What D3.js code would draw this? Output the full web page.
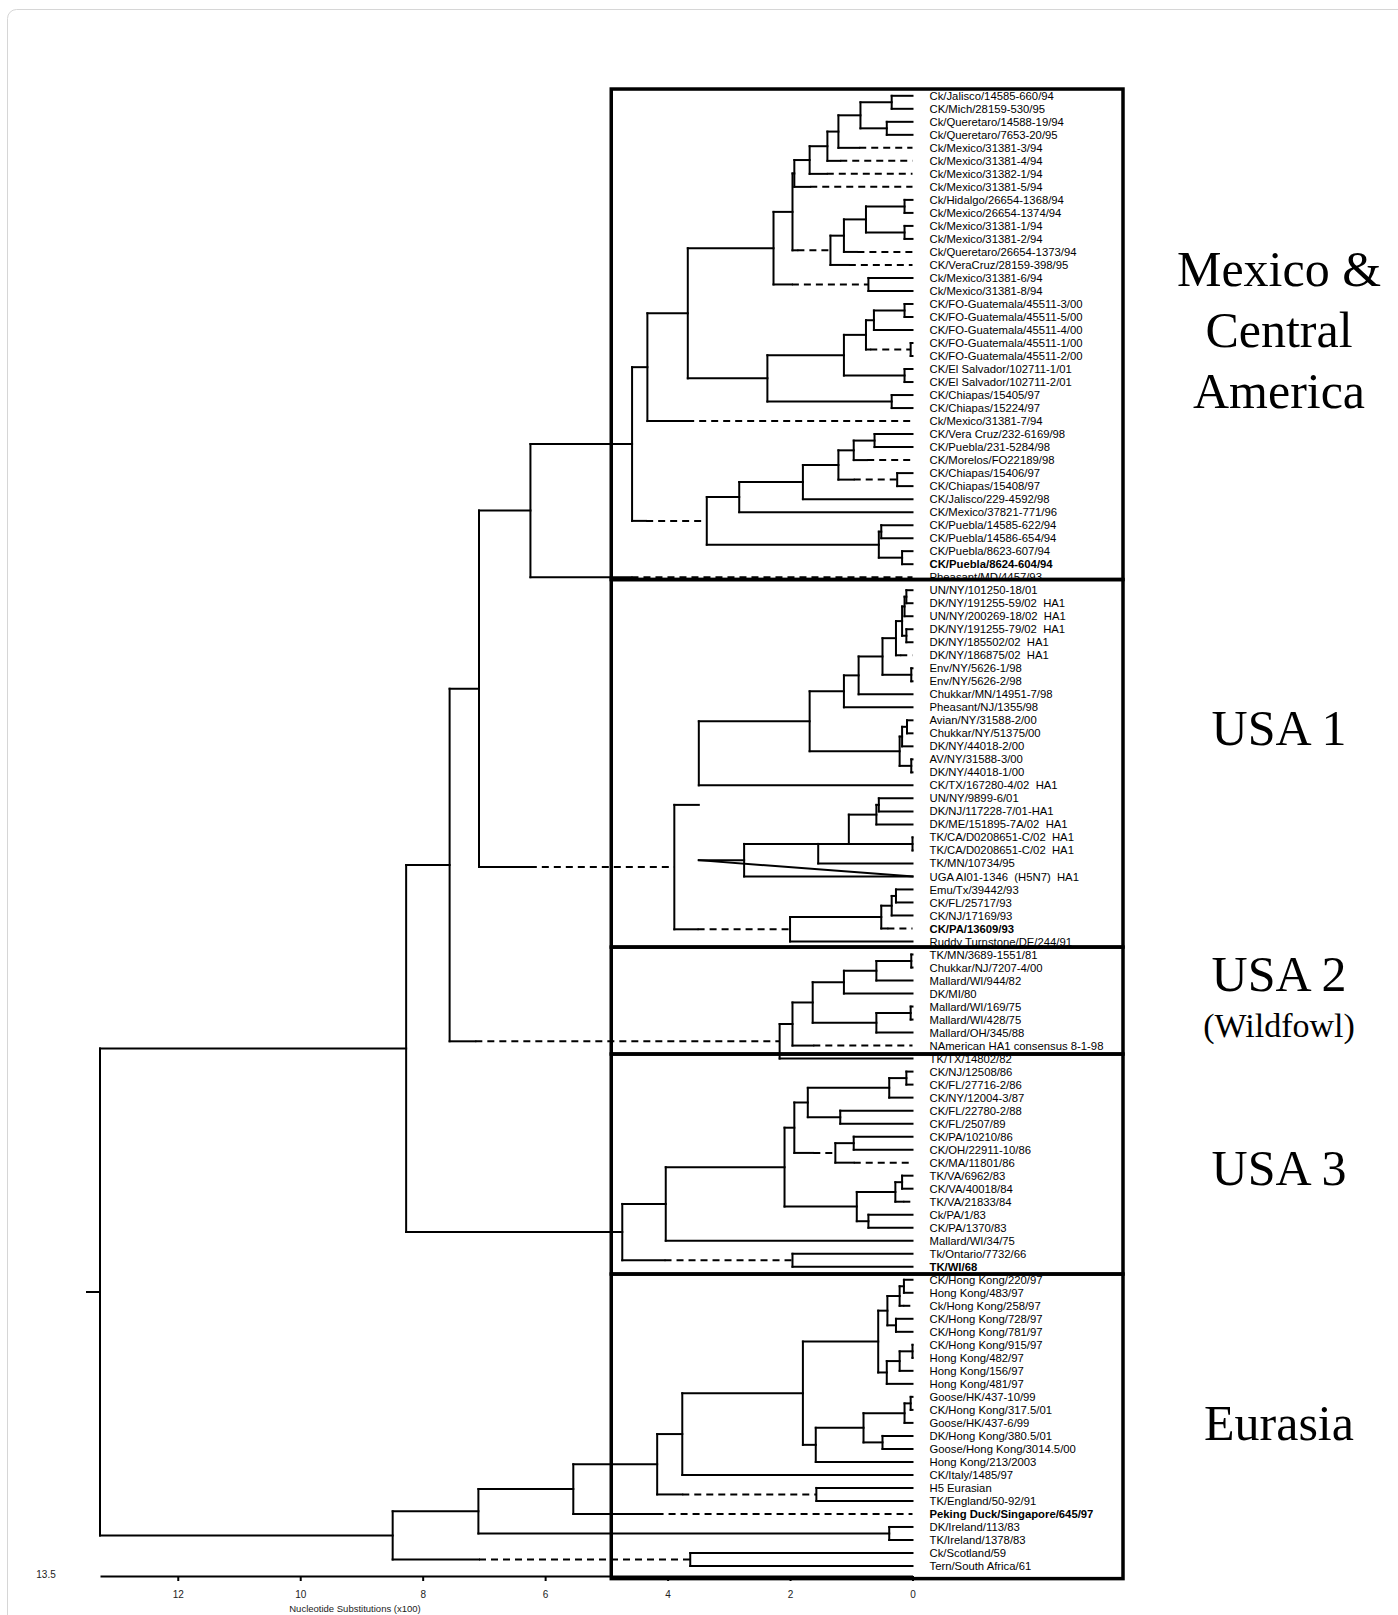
<!DOCTYPE html>
<html>
<head>
<meta charset="utf-8">
<script src="https://d3js.org/d3.v7.min.js"></script>
<style>
  body { margin: 0; background: #fff; }
  text { white-space: pre; }
</style>
</head>
<body>
<div id="chart"></div>
<script>
// Leaves, top to bottom: [name, parent clade, height where the branch turns dashed]
const leaves = [
  ["Ck/Jalisco/14585-660/94", "A"],
  ["CK/Mich/28159-530/95", "A"],
  ["Ck/Queretaro/14588-19/94", "B"],
  ["Ck/Queretaro/7653-20/95", "B"],
  ["Ck/Mexico/31381-3/94", "D", 0.87],
  ["Ck/Mexico/31381-4/94", "E", 1.18],
  ["Ck/Mexico/31382-1/94", "F", 1.40],
  ["Ck/Mexico/31381-5/94", "G1", 1.67],
  ["Ck/Hidalgo/26654-1368/94", "I"],
  ["Ck/Mexico/26654-1374/94", "I"],
  ["Ck/Mexico/31381-1/94", "J"],
  ["Ck/Mexico/31381-2/94", "J"],
  ["Ck/Queretaro/26654-1373/94", "L", 0.90],
  ["CK/VeraCruz/28159-398/95", "M", 1.04],
  ["Ck/Mexico/31381-6/94", "N"],
  ["Ck/Mexico/31381-8/94", "N"],
  ["CK/FO-Guatemala/45511-3/00", "Q1"],
  ["CK/FO-Guatemala/45511-5/00", "Q1"],
  ["CK/FO-Guatemala/45511-4/00", "Q2"],
  ["CK/FO-Guatemala/45511-1/00", "Q3"],
  ["CK/FO-Guatemala/45511-2/00", "Q3"],
  ["CK/El Salvador/102711-1/01", "ES"],
  ["CK/El Salvador/102711-2/01", "ES"],
  ["CK/Chiapas/15405/97", "CH"],
  ["CK/Chiapas/15224/97", "CH"],
  ["Ck/Mexico/31381-7/94", "R", 3.68],
  ["CK/Vera Cruz/232-6169/98", "U1"],
  ["CK/Puebla/231-5284/98", "U1"],
  ["CK/Morelos/FO22189/98", "U2", 0.74],
  ["CK/Chiapas/15406/97", "U3"],
  ["CK/Chiapas/15408/97", "U3"],
  ["CK/Jalisco/229-4592/98", "U5"],
  ["CK/Mexico/37821-771/96", "U6"],
  ["CK/Puebla/14585-622/94", "V1"],
  ["CK/Puebla/14586-654/94", "V1"],
  ["CK/Puebla/8623-607/94", "V2"],
  ["CK/Puebla/8624-604/94", "V2"],
  ["Pheasant/MD/4457/93", "W", 4.59],
  ["UN/NY/101250-18/01", "a1"],
  ["DK/NY/191255-59/02  HA1", "a1"],
  ["UN/NY/200269-18/02  HA1", "a2"],
  ["DK/NY/191255-79/02  HA1", "a3"],
  ["DK/NY/185502/02  HA1", "a3"],
  ["DK/NY/186875/02  HA1", "a5", 0.20],
  ["Env/NY/5626-1/98", "a6"],
  ["Env/NY/5626-2/98", "a6"],
  ["Chukkar/MN/14951-7/98", "a8"],
  ["Pheasant/NJ/1355/98", "a9"],
  ["Avian/NY/31588-2/00", "b1"],
  ["Chukkar/NY/51375/00", "b1"],
  ["DK/NY/44018-2/00", "b2"],
  ["AV/NY/31588-3/00", "b3"],
  ["DK/NY/44018-1/00", "b3"],
  ["CK/TX/167280-4/02  HA1", "a11"],
  ["UN/NY/9899-6/01", "d2"],
  ["DK/NJ/117228-7/01-HA1", "d2"],
  ["DK/ME/151895-7A/02  HA1", "d3"],
  ["TK/CA/D0208651-C/02  HA1", "d1"],
  ["TK/CA/D0208651-C/02  HA1", "d1"],
  ["TK/MN/10734/95", "d5"],
  ["UGA AI01-1346  (H5N7)  HA1", "d6"],
  ["Emu/Tx/39442/93", "e1"],
  ["CK/FL/25717/93", "e1"],
  ["CK/NJ/17169/93", "e2"],
  ["CK/PA/13609/93", "e3", 0.41],
  ["Ruddy Turnstone/DE/244/91", "e"],
  ["TK/MN/3689-1551/81", "f1"],
  ["Chukkar/NJ/7207-4/00", "f1"],
  ["Mallard/WI/944/82", "f2"],
  ["DK/MI/80", "f3"],
  ["Mallard/WI/169/75", "f4"],
  ["Mallard/WI/428/75", "f4"],
  ["Mallard/OH/345/88", "f5"],
  ["NAmerican HA1 consensus 8-1-98", "f7", 1.62],
  ["TK/TX/14802/82", "f8"],
  ["CK/NJ/12508/86", "g1"],
  ["CK/FL/27716-2/86", "g1"],
  ["CK/NY/12004-3/87", "g2"],
  ["CK/FL/22780-2/88", "g3"],
  ["CK/FL/2507/89", "g3"],
  ["CK/PA/10210/86", "g5"],
  ["CK/OH/22911-10/86", "g5"],
  ["CK/MA/11801/86", "g6", 0.96],
  ["TK/VA/6962/83", "h1"],
  ["CK/VA/40018/84", "h1"],
  ["TK/VA/21833/84", "h2", 0.15],
  ["Ck/PA/1/83", "h3"],
  ["CK/PA/1370/83", "h3"],
  ["Mallard/WI/34/75", "g9"],
  ["Tk/Ontario/7732/66", "i1"],
  ["TK/WI/68", "i1"],
  ["CK/Hong Kong/220/97", "j1"],
  ["Hong Kong/483/97", "j1"],
  ["Ck/Hong Kong/258/97", "j2", 0.15],
  ["CK/Hong Kong/728/97", "j3"],
  ["CK/Hong Kong/781/97", "j3"],
  ["CK/Hong Kong/915/97", "j5"],
  ["Hong Kong/482/97", "j5"],
  ["Hong Kong/156/97", "j6"],
  ["Hong Kong/481/97", "j7"],
  ["Goose/HK/437-10/99", "k1"],
  ["CK/Hong Kong/317.5/01", "k1"],
  ["Goose/HK/437-6/99", "k2"],
  ["DK/Hong Kong/380.5/01", "k3"],
  ["Goose/Hong Kong/3014.5/00", "k3"],
  ["Hong Kong/213/2003", "k5"],
  ["CK/Italy/1485/97", "l1"],
  ["H5 Eurasian", "m1"],
  ["TK/England/50-92/91", "m1"],
  ["Peking Duck/Singapore/645/97", "l3", 4.18],
  ["DK/Ireland/113/83", "n1"],
  ["TK/Ireland/1378/83", "n1"],
  ["Ck/Scotland/59", "o1"],
  ["Tern/South Africa/61", "o1"]
];

const boldLeaves = ["CK/Puebla/8624-604/94", "CK/PA/13609/93", "TK/WI/68", "Peking Duck/Singapore/645/97"];

// Internal nodes: [id, parent, height (nucleotide substitutions x100), dashed from]
const clades = [
  ["root", null, 13.27],
  ["Z", "root", 8.27], ["l5", "root", 8.49],
  ["Y", "Z", 7.56], ["g10", "Z", 4.74],
  ["X", "Y", 7.08], ["f8", "Y", 2.17, 7.14],
  ["W", "X", 6.24], ["c", "X", 3.89, 6.25],
  ["S", "W", 4.58],
  ["R", "S", 4.33], ["T", "S", 3.36, 4.35],
  ["O", "R", 3.67],
  ["H", "O", 2.27], ["P", "O", 2.37],
  ["G2", "H", 1.96], ["N", "H", 0.72, 1.97],
  ["G1", "G2", 1.93], ["M", "G2", 1.34, 1.88],
  ["F", "G1", 1.68], ["E", "F", 1.39], ["D", "E", 1.21], ["C", "D", 0.85],
  ["A", "C", 0.34], ["B", "C", 0.42],
  ["L", "M", 1.12], ["K", "L", 0.76], ["I", "K", 0.13], ["J", "K", 0.13],
  ["Q5", "P", 1.12], ["CH", "P", 0.34],
  ["Q4", "Q5", 0.76], ["ES", "Q5", 0.13],
  ["Q2", "Q4", 0.63], ["Q3", "Q4", 0.03, 0.69], ["Q1", "Q2", 0.13],
  ["U6", "T", 2.83], ["V3", "T", 0.55],
  ["U5", "U6", 1.79], ["U4", "U5", 1.21],
  ["U2", "U4", 0.96], ["U3", "U4", 0.25, 0.96], ["U1", "U2", 0.62],
  ["V1", "V3", 0.51], ["V2", "V3", 0.17],
  ["a11", "c", 3.49], ["e", "c", 2.00, 3.51],
  ["a10", "a11", 1.68], ["d6", "a11", 2.75],
  ["a9", "a10", 1.12], ["b4", "a10", 0.21],
  ["a8", "a9", 0.88], ["a7", "a8", 0.49],
  ["a5", "a7", 0.27], ["a6", "a7", 0.02],
  ["a4", "a5", 0.17], ["a2", "a4", 0.13], ["a3", "a4", 0.10], ["a1", "a2", 0.10],
  ["b2", "b4", 0.17], ["b3", "b4", 0.02], ["b1", "b2", 0.09],
  ["d5", "d6", 1.54], ["d4", "d5", 1.04],
  ["d3", "d4", 0.59], ["d1", "d4", 0], ["d2", "d3", 0.55],
  ["e3", "e", 0.51], ["e2", "e3", 0.34], ["e1", "e2", 0.27],
  ["f7", "f8", 1.96], ["f6", "f7", 1.63],
  ["f3", "f6", 1.12], ["f5", "f6", 0.59],
  ["f2", "f3", 0.59], ["f1", "f2", 0.02], ["f4", "f5", 0.03],
  ["g9", "g10", 4.03], ["i1", "g10", 1.96, 4.05],
  ["g8", "g9", 2.09],
  ["g7", "g8", 1.93], ["h4", "g8", 0.91],
  ["g4", "g7", 1.71], ["g6", "g7", 1.26, 1.62],
  ["g2", "g4", 0.38], ["g3", "g4", 1.18], ["g1", "g2", 0.10],
  ["g5", "g6", 0.96],
  ["h2", "h4", 0.28], ["h3", "h4", 0.72], ["h1", "h2", 0.17],
  ["l4", "l5", 7.09], ["o1", "l5", 3.63, 7.08],
  ["l3", "l4", 5.54], ["n1", "l4", 0.38],
  ["l2", "l3", 4.17], ["l1", "l2", 3.76], ["m1", "l2", 1.57, 3.76],
  ["j9", "l1", 1.79],
  ["j8", "j9", 0.56], ["k5", "j9", 1.58],
  ["j4", "j8", 0.41], ["j7", "j8", 0.42],
  ["j2", "j4", 0.21], ["j3", "j4", 0.27], ["j1", "j2", 0.14],
  ["j6", "j7", 0.21], ["j5", "j6", 0],
  ["k4", "k5", 0.80], ["k2", "k4", 0.13], ["k3", "k4", 0.49], ["k1", "k2", 0.03]
];

// quirks of the printed tree
const stubRows = { a11: 54.5 };          // branch to parent drawn at this leaf row
const floating = ["d6"];                 // hangs loose, not joined to parent's vertical
const anchors = { d4: "bottom", d5: "top" };
const strayLines = [["d6", 3.49, "L60", 0]];   // [node, height] -> [node, height]

const groupLabels = [["Mexico &", "Central", "America"], ["USA 1"], ["USA 2", "(Wildfowl)"], ["USA 3"], ["Eurasia"]];
const groupEdges = [-0.52, 37.18, 65.43, 73.65, 90.56, 113.97];   // leaf rows
const groupLabelRow = [18.0, 48.6, 69.5, 82.4, 102.0];
const groupFrom = 4.92;   // left side of the boxes, subst. x100

const axisTicks = [12, 10, 8, 6, 4, 2, 0];
const axisEndLabel = "13.5";

// ---------------------------------------------------------------
const width = 1398, height = 1615;
const svg = d3.select("#chart").append("svg")
  .attr("width", width)
  .attr("height", height)
  .style("font-family", "'Liberation Sans', Arial, sans-serif");

svg.append("rect")
  .attr("x", 7.5).attr("y", 9.5)
  .attr("width", 1420).attr("height", 1650)
  .attr("rx", 9)
  .attr("fill", "#fff")
  .attr("stroke", "#d6d6d6");

const rootHeight = clades[0][2];
const x = d3.scaleLinear().domain([rootHeight, 0]).range([100, 912.5]);
const y = d3.scaleLinear().domain([0, leaves.length - 1]).range([95.8, 1566]);

const table = clades.map(([id, parent, h, dash]) => ({ id, parent, h, dash }))
  .concat(leaves.map(([name, parent, dash], i) => ({ id: "L" + i, parent, h: 0, dash, name, index: i })));

const root = d3.stratify().id(d => d.id).parentId(d => d.parent)(table);

root.eachAfter(n => {
  if (!n.children) {
    n.py = y(n.data.index);
  } else {
    const ys = n.children.filter(c => !floating.includes(c.id)).map(c => c.attachY);
    n.lo = d3.min(ys);
    n.hi = d3.max(ys);
    n.py = anchors[n.id] === "top" ? n.lo : anchors[n.id] === "bottom" ? n.hi : (n.lo + n.hi) / 2;
  }
  n.attachY = n.id in stubRows ? y(stubRows[n.id]) : n.py;
});

const byId = new Map(root.descendants().map(n => [n.id, n]));

const solid = [], dashed = [];
root.descendants().forEach(n => {
  if (n.children) solid.push([x(n.data.h), n.lo, x(n.data.h), n.hi]);
  if (!n.parent) return;
  const yy = n.attachY, x0 = x(n.parent.data.h), x1 = x(n.data.h);
  if (n.data.dash != null) {
    solid.push([x0, yy, x(n.data.dash), yy]);
    dashed.push([x(n.data.dash), yy, x1, yy]);
  } else {
    solid.push([x0, yy, x1, yy]);
  }
});

// root stem
solid.push([x(rootHeight) - 13, root.py, x(rootHeight), root.py]);

strayLines.forEach(([a, ha, b, hb]) => {
  solid.push([x(ha), byId.get(a).py, x(hb), byId.get(b).py]);
});

const tree = svg.append("g").attr("stroke", "#000").attr("stroke-width", 2).attr("fill", "none");

tree.selectAll("line.solid")
  .data(solid)
  .join("line")
  .attr("class", "solid")
  .attr("x1", d => d[0]).attr("y1", d => d[1])
  .attr("x2", d => d[2]).attr("y2", d => d[3])
  .attr("stroke-linecap", "square");

tree.selectAll("line.dash")
  .data(dashed)
  .join("line")
  .attr("class", "dash")
  .attr("x1", d => d[0]).attr("y1", d => d[1])
  .attr("x2", d => d[2]).attr("y2", d => d[3])
  .attr("stroke-dasharray", "7,5");

// leaf labels
svg.append("g")
  .selectAll("text")
  .data(root.leaves())
  .join("text")
  .attr("x", x(0) + 17)
  .attr("y", d => d.py)
  .attr("dy", "0.36em")
  .style("font-size", "11.3px")
  .style("font-weight", d => boldLeaves.includes(d.data.name) ? "bold" : "normal")
  .text(d => d.data.name);

// group boxes
const boxLeft = x(groupFrom), boxRight = x(0) + 210.5;
svg.append("g")
  .selectAll("rect")
  .data(groupLabels)
  .join("rect")
  .attr("x", boxLeft)
  .attr("y", (d, i) => y(groupEdges[i]))
  .attr("width", boxRight - boxLeft)
  .attr("height", (d, i) => y(groupEdges[i + 1]) - y(groupEdges[i]))
  .attr("fill", "none")
  .attr("stroke", "#000")
  .attr("stroke-width", 3.5);

// group names
const labelX = 1279;
groupLabels.forEach((lines, i) => {
  const sizes = lines.map(t => t.startsWith("(") ? 34 : 50);
  const offs = [0];
  for (let k = 1; k < lines.length; k++) offs.push(offs[k - 1] + (sizes[k - 1] + sizes[k]) / 2 * 1.22);
  const mid = offs[offs.length - 1] / 2;
  lines.forEach((t, k) => {
    svg.append("text")
      .attr("x", labelX)
      .attr("y", y(groupLabelRow[i]) + offs[k] - mid)
      .attr("dy", "0.34em")
      .attr("text-anchor", "middle")
      .style("font-family", "'Liberation Serif', 'Times New Roman', serif")
      .style("font-size", sizes[k] + "px")
      .text(t);
  });
});

// axis
const axisY = 1576;
const axisG = svg.append("g")
  .attr("transform", `translate(0,${axisY})`)
  .call(d3.axisBottom(x).tickValues(axisTicks).tickSize(5).tickSizeOuter(0).tickPadding(10).tickFormat(d3.format("d")));
axisG.select(".domain").attr("stroke", "#000").attr("stroke-width", 2);
axisG.selectAll(".tick line").attr("stroke", "#000").attr("stroke-width", 2);
axisG.selectAll(".tick text")
  .attr("fill", "#222")
  .style("font-size", "10px")
  .style("font-family", "'Liberation Sans', Arial, sans-serif");

svg.append("text")
  .attr("x", 46)
  .attr("y", axisY - 2)
  .attr("dy", "0.35em")
  .attr("text-anchor", "middle")
  .style("font-size", "10px")
  .attr("fill", "#222")
  .text(axisEndLabel);

svg.append("text")
  .attr("x", 355)
  .attr("y", 1609)
  .attr("dy", "0.35em")
  .attr("text-anchor", "middle")
  .style("font-size", "9.5px")
  .attr("fill", "#222")
  .text("Nucleotide Substitutions (x100)");
</script>
</body>
</html>
